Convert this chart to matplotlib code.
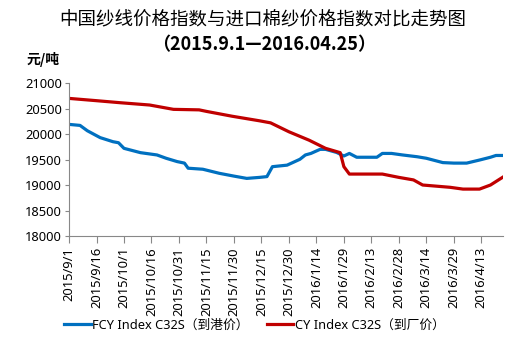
import matplotlib
matplotlib.use("Agg")
import matplotlib.pyplot as plt
import pandas as pd

TITLE = "中国纱线价格指数与进口棉纱价格指数对比走势图"
SUBTITLE = "（2015.9.1—2016.04.25）"
UNIT = "元/吨"

FCY_LABEL = "FCY Index C32S（到港价）"
CY_LABEL = "CY Index C32S（到厂价）"

fcy_dates = [
    "2015-09-01", "2015-09-07", "2015-09-11", "2015-09-18", "2015-09-25",
    "2015-09-28", "2015-10-01", "2015-10-10", "2015-10-19", "2015-10-24",
    "2015-10-30", "2015-11-03", "2015-11-05", "2015-11-13", "2015-11-22",
    "2015-11-30", "2015-12-07", "2015-12-14", "2015-12-18", "2015-12-21",
    "2015-12-29", "2016-01-05", "2016-01-08", "2016-01-11", "2016-01-16",
    "2016-01-19", "2016-01-25", "2016-01-29", "2016-02-01", "2016-02-05",
    "2016-02-16", "2016-02-19", "2016-02-24", "2016-03-01", "2016-03-09",
    "2016-03-14", "2016-03-23", "2016-03-29", "2016-04-05", "2016-04-12",
    "2016-04-18", "2016-04-21", "2016-04-25",
]
fcy_values = [
    20190, 20170, 20065, 19930, 19850,
    19830, 19720, 19635, 19590, 19525,
    19460, 19430, 19330, 19310, 19230,
    19175, 19130, 19150, 19165, 19360,
    19390, 19505, 19590, 19620, 19700,
    19700, 19640, 19570, 19620, 19545,
    19545, 19620, 19620, 19590, 19555,
    19525, 19440, 19430, 19430, 19490,
    19545, 19580, 19580,
]

cy_dates = [
    "2015-09-01", "2015-09-16", "2015-09-29", "2015-10-15", "2015-10-28",
    "2015-11-11", "2015-11-15", "2015-11-29", "2015-12-09", "2015-12-14",
    "2015-12-20", "2015-12-30", "2016-01-10", "2016-01-19", "2016-01-27",
    "2016-01-29", "2016-02-01", "2016-02-19", "2016-02-28", "2016-03-07",
    "2016-03-12", "2016-03-27", "2016-04-03", "2016-04-12", "2016-04-18",
    "2016-04-25",
]
cy_values = [
    20700, 20655, 20615, 20570, 20485,
    20475, 20445, 20350, 20290, 20260,
    20220, 20045, 19880, 19720, 19635,
    19360, 19215, 19215, 19150, 19100,
    19000, 18955, 18920, 18920, 19000,
    19160,
]

y_ticks = [18000, 18500, 19000, 19500, 20000, 20500, 21000]

BLUE = "#0070C0"
RED = "#C00000"


def main():
    plt.rcParams["font.family"] = ["Noto Sans", "Noto Sans CJK SC", "DejaVu Sans"]

    fig = plt.figure(figsize=(5.17, 3.42), dpi=100)
    ax = fig.add_axes([0.1335, 0.31, 0.84, 0.447])

    fcy_x = pd.to_datetime(fcy_dates)
    cy_x = pd.to_datetime(cy_dates)
    ax.plot(fcy_x, fcy_values, color=BLUE, lw=2.3, label=FCY_LABEL, solid_joinstyle="round")
    ax.plot(cy_x, cy_values, color=RED, lw=2.3, label=CY_LABEL, solid_joinstyle="round")

    ax.set_ylim(18000, 21000)
    ax.set_yticks(y_ticks)
    ax.set_xlim(pd.Timestamp("2015-09-01"), pd.Timestamp("2016-04-25"))

    ticks = pd.date_range("2015-09-01", periods=16, freq="15D")
    ax.set_xticks(ticks)
    ax.set_xticklabels([f"{d.year}/{d.month}/{d.day}" for d in ticks], rotation=90)

    for side in ("top", "right"):
        ax.spines[side].set_visible(False)
    for side in ("left", "bottom"):
        ax.spines[side].set_color("#888888")
        ax.spines[side].set_linewidth(0.8)
    ax.tick_params(axis="both", colors="#888888", labelcolor="black", labelsize=9.3, width=0.8)
    ax.tick_params(axis="x", length=5, pad=3)
    ax.tick_params(axis="y", length=3, pad=2)

    cjk = ["Noto Sans CJK SC", "DejaVu Sans"]
    fig.text(0.508, 0.94, TITLE, ha="center", va="center", fontsize=13.3, family=cjk)
    fig.text(0.51, 0.868, SUBTITLE, ha="center", va="center", fontsize=13, fontweight="bold",
             family=cjk)
    fig.text(0.052, 0.825, UNIT, ha="left", va="center", fontsize=10, fontweight="bold",
             family=cjk)

    fig.legend(loc="center", bbox_to_anchor=(0.492, 0.05), ncol=2, frameon=False,
               fontsize=9.2, handlelength=2.1, handletextpad=0.1, columnspacing=1.4)

    fig.savefig("out.png", dpi=100)
    plt.close(fig)


if __name__ == "__main__":
    main()
